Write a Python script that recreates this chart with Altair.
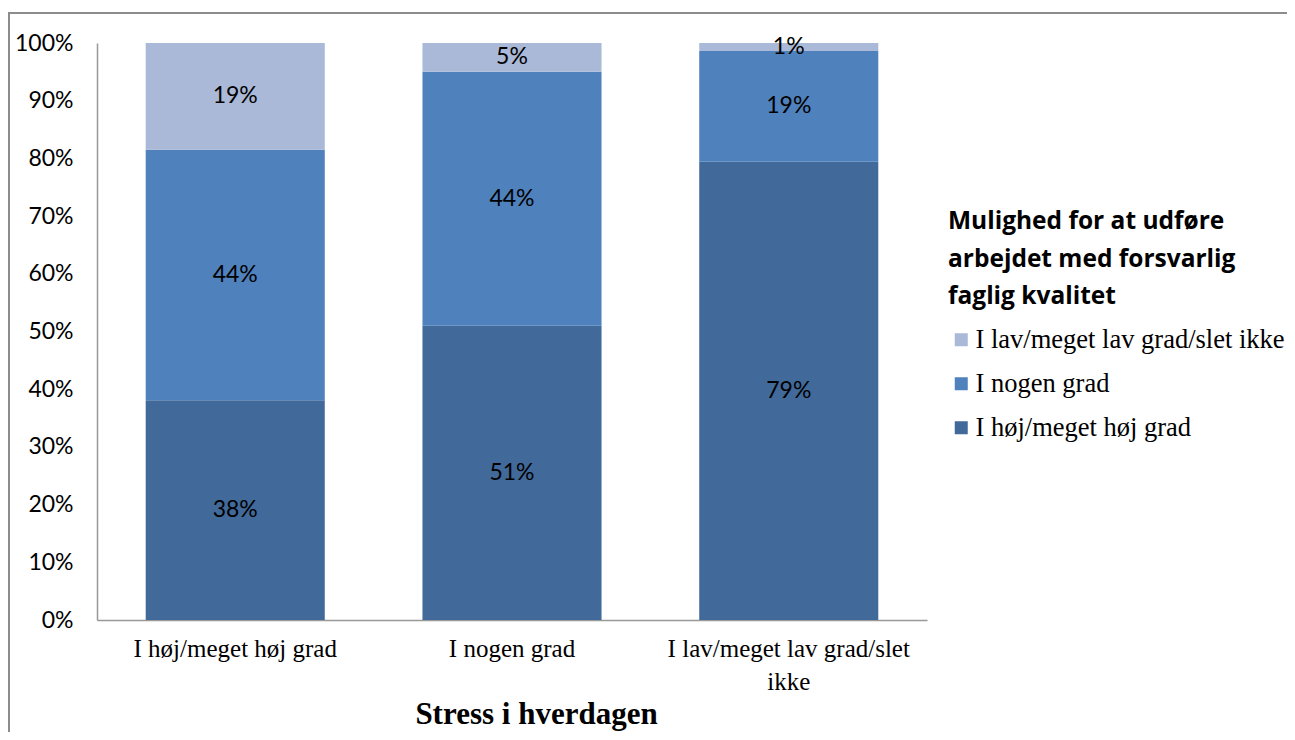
import altair as alt
import pandas as pd

categories = ["I høj/meget høj grad", "I nogen grad", "I lav/meget lav grad/slet ikke"]
series = ["I høj/meget høj grad", "I nogen grad", "I lav/meget lav grad/slet ikke"]
hoj = [38.1, 51.0, 79.4]
nogen = [43.4, 44.0, 19.2]
lav = [18.5, 5.0, 1.4]
hoj_lbl = ["38%", "51%", "79%"]
nogen_lbl = ["44%", "44%", "19%"]
lav_lbl = ["19%", "5%", "1%"]
y_ticks = [0, 10, 20, 30, 40, 50, 60, 70, 80, 90, 100]
colors = {"I høj/meget høj grad": "#416A9B",
          "I nogen grad": "#4F81BD",
          "I lav/meget lav grad/slet ikke": "#AAB9D7"}
legend_title = ["Mulighed for at udføre", "arbejdet med forsvarlig", "faglig kvalitet"]
x_title = "Stress i hverdagen"

rows = []
for i, c in enumerate(categories):
    for j, (s, vals, lbls) in enumerate(zip(series, [hoj, nogen, lav], [hoj_lbl, nogen_lbl, lav_lbl])):
        rows.append(dict(cat=c, ser=s, v=vals[i], lbl=lbls[i], ord=j))
df = pd.DataFrame(rows)

legend_domain = series[::-1]

base = alt.Chart(df).transform_stack(
    stack="v", groupby=["cat"], as_=["y0", "y1"],
    sort=[alt.SortField("ord", order="ascending")]
).transform_calculate(ym="(datum.y0 + datum.y1) / 2")

xenc = alt.X(
    "cat:N", sort=categories,
    scale=alt.Scale(paddingInner=0.353, paddingOuter=0.176),
    axis=alt.Axis(
        title=x_title, labelAngle=0, ticks=False, domainColor="#999999", domainWidth=1.5,
        labelFont="Liberation Serif", labelFontSize=25, labelColor="black",
        labelPadding=16, labelLimit=0, labelLineHeight=33,
        labelExpr="datum.label == 'I lav/meget lav grad/slet ikke' ? ['I lav/meget lav grad/slet', 'ikke'] : datum.label",
        titleFont="Liberation Serif", titleFontSize=31, titleFontWeight="bold",
        titleColor="black", titlePadding=5, titleX=439,
    ),
)

bars = base.mark_bar().encode(
    x=xenc,
    y=alt.Y("y0:Q", scale=alt.Scale(domain=[0, 100], nice=False),
            axis=alt.Axis(values=y_ticks, labelExpr="datum.value + '%'", grid=False, ticks=False,
                          domainColor="#999999", domainWidth=1.5, labelFont="Lato", labelFontSize=23,
                          labelColor="black", labelPadding=24, title=None)),
    y2="y1:Q",
    color=alt.Color("ser:N",
                    scale=alt.Scale(domain=legend_domain, range=[colors[s] for s in legend_domain]),
                    legend=alt.Legend(
                        title=legend_title, orient="none", legendX=851, legendY=167,
                        titleFont="Open Sans", titleFontSize=24.5, titleFontWeight="bold", titleColor="black",
                        titleLineHeight=37.5, titleLimit=0, titlePadding=17,
                        labelFont="Liberation Serif", labelFontSize=26.5, labelColor="black", labelLimit=0,
                        symbolType="square", symbolSize=169, symbolStrokeWidth=0, rowPadding=17,
                        labelOffset=1, padding=0,
                    )),
)

texts = base.mark_text(font="Lato", fontSize=23, color="black").encode(
    x=alt.X("cat:N", sort=categories),
    y=alt.Y("ym:Q"),
    text="lbl:N",
)

border = alt.Chart(pd.DataFrame({"z": [0]})).mark_rect(
    fill="transparent", stroke="#8c8c8c", strokeWidth=2
).encode(x=alt.value(-88), x2=alt.value(1300), y=alt.value(-30), y2=alt.value(760))

chart = alt.layer(bars, texts, border).properties(
    width=830, height=577,
    autosize=alt.AutoSizeParams(type="none"),
    padding={"left": 89, "top": 35, "right": 360, "bottom": 112},
).configure_view(stroke=None)

chart.save("out.html", embed_options={"renderer": "svg", "actions": False})
